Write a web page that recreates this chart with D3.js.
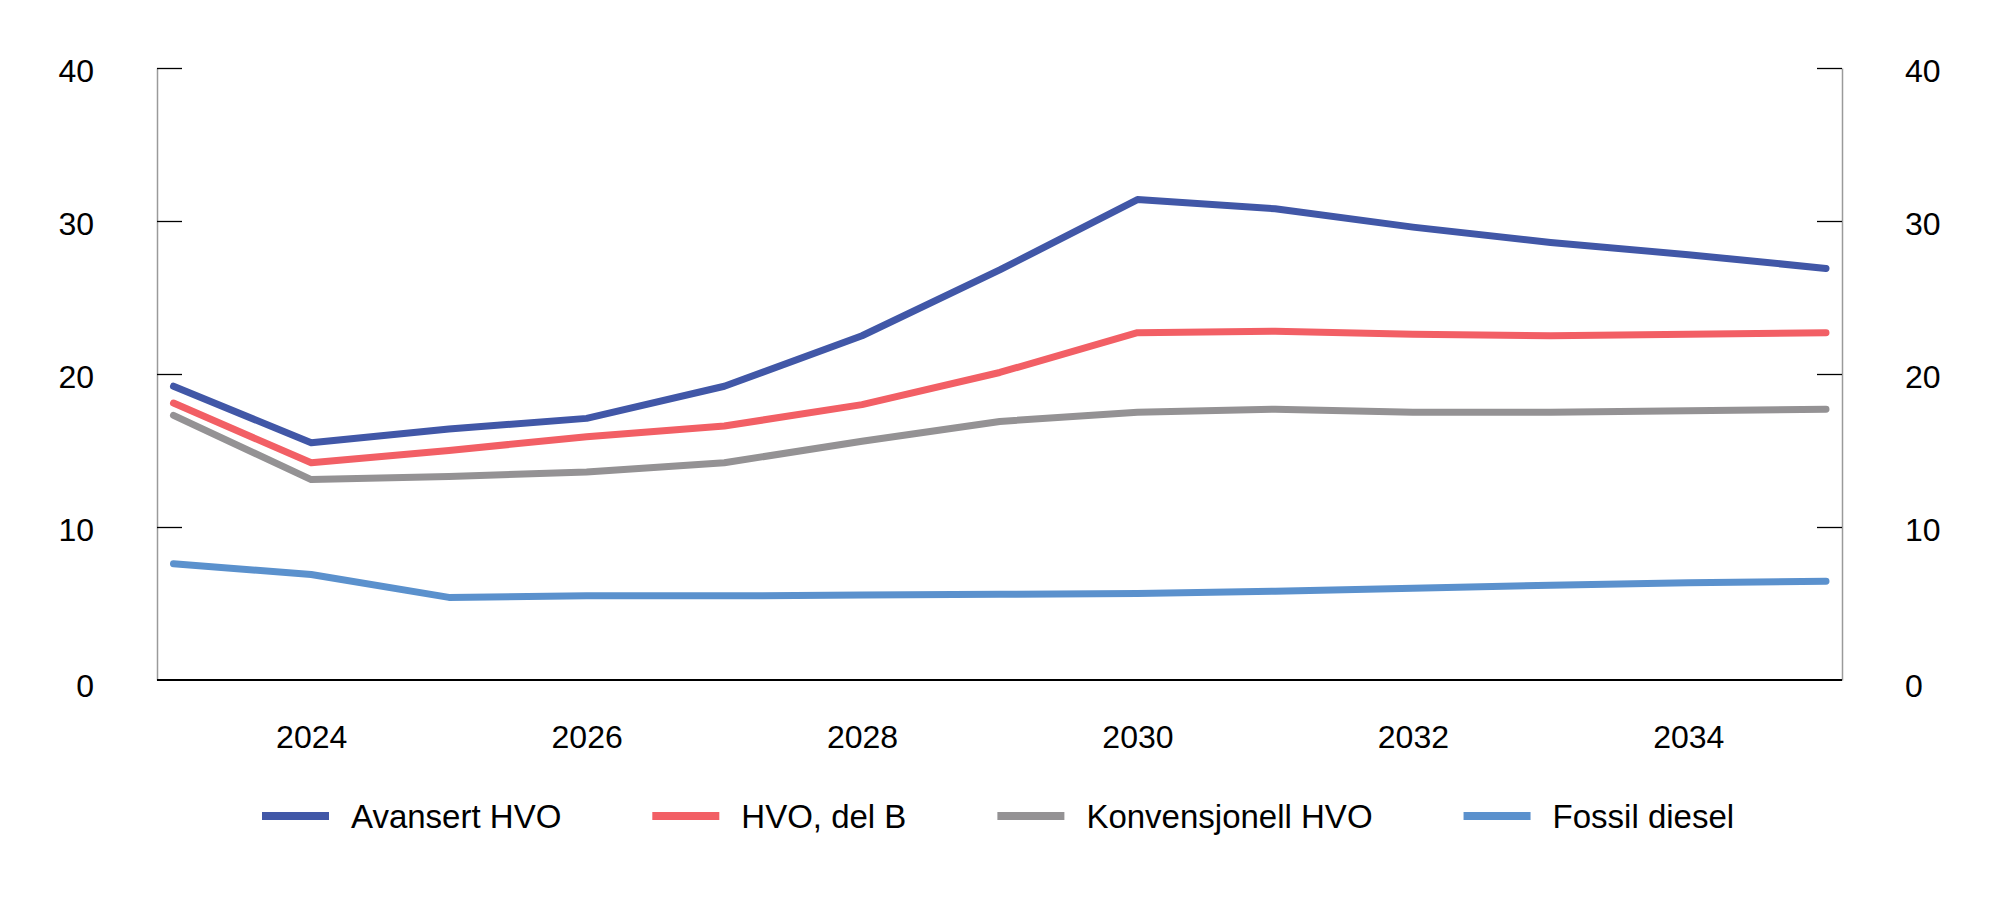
<!DOCTYPE html>
<html>
<head>
<meta charset="utf-8">
<script src="https://cdn.jsdelivr.net/npm/d3@7"></script>
<style>
  body { margin: 0; background: #fff; }
  text { font-family: "Liberation Sans", Arial, Helvetica, sans-serif; }
</style>
</head>
<body>
<div class="chart"></div>
<script>
// data
var years = [2023, 2024, 2025, 2026, 2027, 2028, 2029, 2030, 2031, 2032, 2033, 2034, 2035];
var avansertHVO = [19.2, 15.5, 16.4, 17.1, 19.2, 22.5, 26.8, 31.4, 30.8, 29.6, 28.6, 27.8, 26.9];
var hvoDelB = [18.1, 14.2, 15.0, 15.9, 16.6, 18.0, 20.1, 22.7, 22.8, 22.6, 22.5, 22.6, 22.7];
var konvensjonellHVO = [17.3, 13.1, 13.3, 13.6, 14.2, 15.6, 16.9, 17.5, 17.7, 17.5, 17.5, 17.6, 17.7];
var fossilDiesel = [7.6, 6.9, 5.4, 5.5, 5.5, 5.55, 5.6, 5.65, 5.8, 6.0, 6.2, 6.35, 6.45];
var seriesNames = ['Avansert HVO', 'HVO, del B', 'Konvensjonell HVO', 'Fossil diesel'];
var yTicks = [0, 10, 20, 30, 40];
var xTickLabels = [2024, 2026, 2028, 2030, 2032, 2034];

var width = 2000, height = 908;
var plotLeft = 157, plotRight = 1842, plotTop = 68, plotBottom = 680;
var fontSize = 32;
var colors = ['#4157A7', '#F25F65', '#949294', '#5B91CD'];
var lineWidth = 7;

var svg = d3.select('.chart')
	.append('svg')
	.attr('width', width)
	.attr('height', height);

var x = d3.scalePoint()
	.domain(years)
	.range([173.5, 1826]);
var y = d3.scaleLinear()
	.domain([0, 40])
	.range([plotBottom, plotTop]);

// left axis
var leftAxis = svg.append('g')
	.attr('transform', 'translate(' + plotLeft + ',0)')
	.call(d3.axisLeft(y).tickValues(yTicks).tickSizeInner(-25).tickSizeOuter(0).tickPadding(63));
// right axis
var rightAxis = svg.append('g')
	.attr('transform', 'translate(' + plotRight + ',0)')
	.call(d3.axisRight(y).tickValues(yTicks).tickSizeInner(-25).tickSizeOuter(0).tickPadding(63));

[leftAxis, rightAxis].forEach(function(ax){
	ax.select('.domain').attr('stroke', '#9a9a9a').attr('stroke-width', 1.5);
	ax.selectAll('.tick line').attr('stroke', '#000').attr('stroke-width', 1.3);
	ax.selectAll('.tick text')
		.attr('font-size', fontSize)
		.attr('font-family', '"Liberation Sans", Arial, sans-serif')
		.attr('fill', '#000')
		.attr('dy', '0.42em');
	ax.selectAll('.tick').filter(function(d){ return d === 0; }).select('line').remove();
	ax.selectAll('.tick').filter(function(d){ return d === 0; }).select('text').attr('dy', '0.5em');
});

// bottom axis
var bottomAxis = svg.append('g')
	.attr('transform', 'translate(0,' + plotBottom + ')')
	.call(d3.axisBottom(x).tickValues(xTickLabels).tickSize(0).tickPadding(45));
bottomAxis.select('.domain').remove();
bottomAxis.selectAll('.tick text')
	.attr('font-size', fontSize)
	.attr('font-family', '"Liberation Sans", Arial, sans-serif')
	.attr('fill', '#000');

svg.append('line')
	.attr('x1', plotLeft)
	.attr('x2', plotRight)
	.attr('y1', plotBottom)
	.attr('y2', plotBottom)
	.attr('stroke', '#000')
	.attr('stroke-width', 2);

// lines
var allSeries = [avansertHVO, hvoDelB, konvensjonellHVO, fossilDiesel];
var line = d3.line()
	.x(function(d, i){ return x(years[i]); })
	.y(function(d){ return y(d); });

for(var i = 0; i < allSeries.length; i++){
	svg.append('path')
		.datum(allSeries[i])
		.attr('d', line)
		.attr('fill', 'none')
		.attr('stroke', colors[i])
		.attr('stroke-width', lineWidth)
		.attr('stroke-linecap', 'round')
		.attr('stroke-linejoin', 'round');
}

// legend
var legendY = 816;
var swatchWidth = 67, swatchGap = 22, itemGap = 91;
var legend = svg.append('g').attr('transform', 'translate(262,0)');
var cursor = 0;
for(i = 0; i < seriesNames.length; i++){
	legend.append('rect')
		.attr('x', cursor)
		.attr('y', legendY - 4)
		.attr('width', swatchWidth)
		.attr('height', 8)
		.attr('fill', colors[i]);
	var t = legend.append('text')
		.attr('x', cursor + swatchWidth + swatchGap)
		.attr('y', legendY)
		.attr('dy', '0.36em')
		.attr('font-size', 33)
		.attr('fill', '#000')
		.text(seriesNames[i]);
	cursor += swatchWidth + swatchGap + t.node().getComputedTextLength() + itemGap;
}
</script>
</body>
</html>
